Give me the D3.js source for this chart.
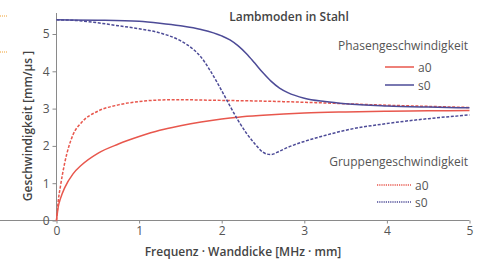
<!DOCTYPE html>
<html><head><meta charset="utf-8">
<script src="https://cdn.jsdelivr.net/npm/d3@7"></script>
<style>
html,body{margin:0;padding:0;background:#fff;}
svg{display:block;font-family:"Open Sans",sans-serif;}
</style></head>
<body><svg id="c" width="484" height="260"></svg>
<script>
// Data
const xTicks = [0, 1, 2, 3, 4, 5];
const yTicks = [0, 1, 2, 3, 4, 5];

const phaseA0x = [0, 0.02, 0.05, 0.1, 0.2, 0.3, 0.5, 0.75, 1, 1.25, 1.5, 1.75, 2, 2.2, 2.5, 3, 3.5, 4, 4.5, 5];
const phaseA0y = [0, 0.35, 0.6, 0.88, 1.25, 1.48, 1.8, 2.05, 2.25, 2.42, 2.54, 2.64, 2.72, 2.77, 2.82, 2.88, 2.91, 2.93, 2.94, 2.95];

const groupA0x = [0, 0.02, 0.05, 0.1, 0.2, 0.3, 0.5, 0.75, 1, 1.25, 1.5, 1.75, 2, 2.5, 3, 3.5, 4, 4.5, 5];
const groupA0y = [0, 0.5, 0.95, 1.55, 2.3, 2.62, 2.93, 3.1, 3.19, 3.23, 3.24, 3.23, 3.22, 3.2, 3.17, 3.13, 3.09, 3.06, 3.03];

const phaseS0x = [0, 0.5, 1, 1.25, 1.5, 1.75, 2, 2.1, 2.2, 2.3, 2.4, 2.5, 2.6, 2.7, 2.8, 3, 3.25, 3.5, 4, 4.5, 5];
const phaseS0y = [5.38, 5.37, 5.34, 5.29, 5.22, 5.12, 4.95, 4.84, 4.68, 4.47, 4.22, 3.96, 3.73, 3.55, 3.43, 3.28, 3.19, 3.13, 3.07, 3.04, 3.02];

const groupS0x = [0, 0.25, 0.5, 0.75, 1, 1.25, 1.5, 1.65, 1.75, 1.86, 2, 2.1, 2.2, 2.3, 2.4, 2.5, 2.55, 2.6, 2.7, 2.8, 3, 3.25, 3.5, 4, 4.5, 5];
const groupS0y = [5.38, 5.36, 5.3, 5.22, 5.14, 5.03, 4.82, 4.6, 4.38, 4.02, 3.48, 3.07, 2.68, 2.34, 2.06, 1.83, 1.78, 1.77, 1.86, 1.96, 2.12, 2.28, 2.42, 2.6, 2.73, 2.83];

const titleText = "Lambmoden in Stahl";
const xLabel = "Frequenz · Wanddicke [MHz · mm]";
const yLabel = "Geschwindigkeit [mm/µs ]";
const legendPhaseTitle = "Phasengeschwindigkeit";
const legendGroupTitle = "Gruppengeschwindigkeit";
const modeNames = ["a0", "s0"];

const RED = "#e8574d", BLUE = "#4d4b97", GRAY = "#8a8a8a", TXT = "#555";

const svg = d3.select("#c");
const x = d3.scaleLinear().domain([0, 5]).range([56.5, 469.5]);
const y = d3.scaleLinear().domain([0, 5]).range([220.5, 34]);

// artifacts top-left
[16, 52].forEach(yy => svg.append("line").attr("x1", 0).attr("x2", 8).attr("y1", yy).attr("y2", yy)
  .attr("stroke", "#f0a030").attr("stroke-width", 1).attr("stroke-dasharray", "1,1"));

// axes
const xa = svg.append("g").attr("transform", `translate(0,${y(0)})`)
  .call(d3.axisBottom(x).tickValues(xTicks).tickSize(3).tickPadding(3).tickFormat(d3.format("d")));
const ya = svg.append("g").attr("transform", `translate(${x(0)},0)`)
  .call(d3.axisLeft(y).tickValues(yTicks).tickSize(4).tickPadding(3).tickFormat(d3.format("d")));
[xa, ya].forEach(a => {
  a.select(".domain").attr("stroke", GRAY);
  a.selectAll(".tick line").attr("stroke", GRAY);
  a.selectAll(".tick text").attr("fill", TXT).style("font-size", "12px").style("font-family", "'Open Sans',sans-serif");
});
ya.select(".domain").attr("d", `M0,${y(0)}V13`);
xa.select(".domain").attr("d", `M0,0H${x(5)}`);

const line = d3.line().x(d => x(d[0])).y(d => y(d[1])).curve(d3.curveMonotoneX);
function draw(xs, ys, color, dash) {
  const p = svg.append("path").datum(d3.zip(xs, ys)).attr("d", line)
    .attr("fill", "none").attr("stroke", color).attr("stroke-width", 1.5);
  if (dash) p.attr("stroke-dasharray", dash);
}
draw(phaseA0x, phaseA0y, RED, null);
draw(groupA0x, groupA0y, RED, "3,1.6");
draw(phaseS0x, phaseS0y, BLUE, null);
draw(groupS0x, groupS0y, BLUE, "3,1.6");

// title
svg.append("text").attr("x", 289).attr("y", 21).attr("text-anchor", "middle")
  .attr("fill", "#444").style("font-size", "12px").style("font-weight", 600).text(titleText);

// legends
function legend(title, ty, rows, dash) {
  svg.append("text").attr("x", 468).attr("y", ty).attr("text-anchor", "end")
    .attr("fill", TXT).style("font-size", "12px").text(title);
  rows.forEach((r, i) => {
    const ly = r.y;
    const l = svg.append("line").attr("x1", r.x1).attr("x2", r.x2).attr("y1", ly).attr("y2", ly)
      .attr("stroke", r.c).attr("stroke-width", 1.5);
    if (dash) l.attr("stroke-dasharray", dash);
    svg.append("text").attr("x", r.x2 + 4).attr("y", ly + 4.5).attr("fill", TXT)
      .style("font-size", "12px").text(modeNames[i]);
  });
}
legend(legendPhaseTitle, 50, [{x1: 385, x2: 414, y: 67, c: RED}, {x1: 385, x2: 414, y: 85, c: BLUE}], null);
legend(legendGroupTitle, 166, [{x1: 377, x2: 411, y: 185, c: RED}, {x1: 377, x2: 411, y: 202, c: BLUE}], "1.2,1");

// axis labels
svg.append("text").attr("x", 243).attr("y", 256).attr("text-anchor", "middle")
  .attr("fill", "#444").style("font-size", "12px").style("font-weight", 600).text(xLabel);
svg.append("text").attr("transform", "translate(32,126) rotate(-90)").attr("text-anchor", "middle")
  .attr("fill", "#444").style("font-size", "12px").style("font-weight", 600).text(yLabel);
</script></body></html>
